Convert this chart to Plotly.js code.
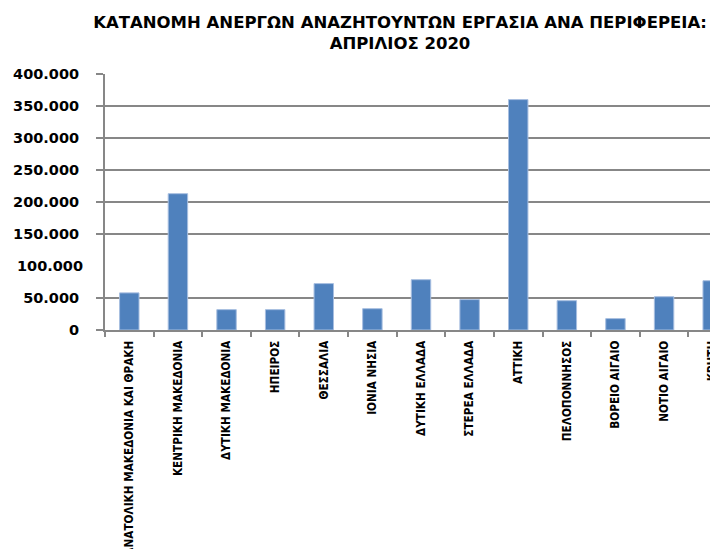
<!DOCTYPE html>
<html>
<head>
<meta charset="utf-8">
<script src="https://cdn.plot.ly/plotly-3.0.1.min.js"></script>
<style>
html, body { margin: 0; padding: 0; overflow: hidden; background: #fff; }
#chart { width: 760px; height: 549px; }
</style>
</head>
<body>
<div id="chart"></div>
<script>
const regions = [
  "ΑΝΑΤΟΛΙΚΗ ΜΑΚΕΔΟΝΙΑ ΚΑΙ ΘΡΑΚΗ",
  "ΚΕΝΤΡΙΚΗ ΜΑΚΕΔΟΝΙΑ",
  "ΔΥΤΙΚΗ ΜΑΚΕΔΟΝΙΑ",
  "ΗΠΕΙΡΟΣ",
  "ΘΕΣΣΑΛΙΑ",
  "ΙΟΝΙΑ ΝΗΣΙΑ",
  "ΔΥΤΙΚΗ ΕΛΛΑΔΑ",
  "ΣΤΕΡΕΑ ΕΛΛΑΔΑ",
  "ΑΤΤΙΚΗ",
  "ΠΕΛΟΠΟΝΝΗΣΟΣ",
  "ΒΟΡΕΙΟ ΑΙΓΑΙΟ",
  "ΝΟΤΙΟ ΑΙΓΑΙΟ",
  "ΚΡΗΤΗ"
];
const unemployed = [58000, 213000, 31800, 31800, 72500, 33300, 78600, 47500, 360000, 45800, 17800, 52000, 77000];
const yTickVals = [0, 50000, 150000, 200000, 250000, 300000, 350000, 400000];
const yTickValsNoGrid = [100000];

const titleText = "ΚΑΤΑΝΟΜΗ ΑΝΕΡΓΩΝ ΑΝΑΖΗΤΟΥΝΤΩΝ ΕΡΓΑΣΙΑ ΑΝΑ ΠΕΡΙΦΕΡΕΙΑ:<br>ΑΠΡΙΛΙΟΣ 2020";

const traces = [
  {
    type: "bar",
    x: regions,
    y: unemployed,
    marker: { color: "#4F81BD", line: { color: "#A7BEE0", width: 1 } },
    hoverinfo: "x+y"
  },
  {
    type: "scatter",
    x: [], y: [],
    yaxis: "y2",
    showlegend: false,
    hoverinfo: "skip"
  }
];

const gray = "#878787";
const tickFont = { family: "DejaVu Sans, Verdana, sans-serif", size: 14.5, color: "#000", weight: 700 };

const layout = {
  width: 760,
  height: 549,
  margin: { l: 105, r: 22.5, t: 74, b: 219 },
  paper_bgcolor: "#fff",
  plot_bgcolor: "#fff",
  showlegend: false,
  separators: ",.",
  bargap: 0.6,
  title: {
    text: titleText,
    x: 400 / 760,
    xref: "container",
    xanchor: "center",
    y: 1 - 28 / 549,
    yref: "container",
    yanchor: "top",
    font: { family: "DejaVu Sans, Verdana, sans-serif", size: 16.5, color: "#000", weight: 700 }
  },
  xaxis: {
    type: "category",
    range: [-0.5, 12.5],
    tickangle: -90,
    ticks: "outside",
    tickson: "boundaries",
    ticklen: 5,
    tickwidth: 2,
    tickcolor: gray,
    showline: true,
    linecolor: gray,
    linewidth: 2,
    showgrid: false,
    ticklabelstandoff: 4,
    tickfont: { family: "Liberation Sans Narrow, DejaVu Sans Condensed, Arial Narrow, sans-serif", size: 11.7, color: "#000", weight: 700 },
    fixedrange: true
  },
  yaxis: {
    range: [0, 400000],
    tickvals: yTickVals,
    tickformat: ",d",
    ticks: "outside",
    ticklen: 7,
    tickwidth: 1.5,
    tickcolor: gray,
    showline: true,
    linecolor: gray,
    linewidth: 2,
    showgrid: true,
    gridcolor: gray,
    gridwidth: 1.5,
    zeroline: false,
    ticklabelstandoff: 14,
    tickfont: tickFont,
    fixedrange: true
  },
  yaxis2: {
    overlaying: "y",
    side: "left",
    range: [0, 400000],
    tickvals: yTickValsNoGrid,
    tickformat: ",d",
    ticks: "",
    showline: false,
    showgrid: false,
    zeroline: false,
    ticklabelstandoff: 21,
    tickfont: tickFont,
    fixedrange: true
  }
};

Plotly.newPlot("chart", traces, layout, { displayModeBar: false, staticPlot: true });
</script>
</body>
</html>
